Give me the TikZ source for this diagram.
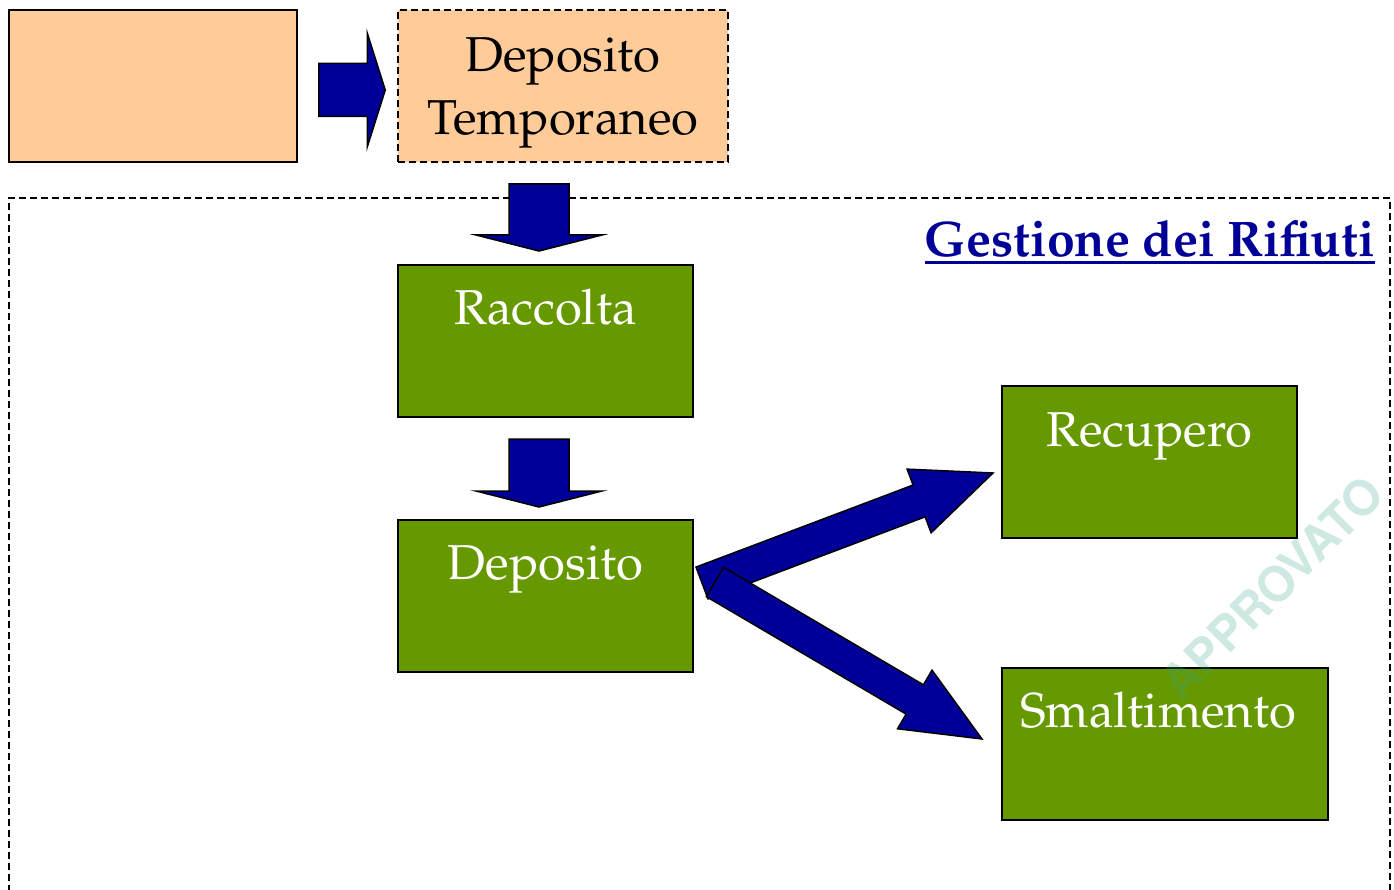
\documentclass[tikz,border=0pt]{standalone}
\usepackage[T1]{fontenc}
\renewcommand\rmdefault{ppl}
\usetikzlibrary{calc}
\definecolor{peach}{HTML}{FFCC99}
\definecolor{leaf}{HTML}{669900}
\definecolor{navy}{HTML}{000099}
\definecolor{wmcol}{HTML}{3AA88A}
\tikzset{
  boxline/.style={draw=black,line width=1.5pt},
  peachbox/.style={boxline,fill=peach,minimum height=152,inner sep=0},
  greenbox/.style={boxline,fill=leaf,minimum height=152,inner sep=0},
  bigtext/.style={font=\fontsize{49}{58}\selectfont,inner sep=0,anchor=base},
  greentext/.style={bigtext,text=white},
  dashline/.style={draw=black,line width=1.5pt,dash pattern=on 7pt off 4pt},
  arrowstyle/.style={fill=navy,draw=black,line width=1.5pt,line join=miter},
}
% start, tip, half shaft, half head, head length
\newcommand\blockarrow[5]{%
  \coordinate (ba-b) at ($#2!#5!#1$);
  \draw[arrowstyle] ($#1!#3!90:#2$) -- ($(ba-b)!#3!90:#2$) -- ($(ba-b)!#4!90:#2$) -- #2
    -- ($(ba-b)!#4!-90:#2$) -- ($(ba-b)!#3!-90:#2$) -- ($#1!#3!-90:#2$) -- cycle;
}
\begin{document}
\begin{tikzpicture}[x=1pt,y=-1pt]
\useasboundingbox (0,0) rectangle (1394,890);
% management frame (open at bottom)
\draw[dashline] (9,892) -- (9,198) -- (1390,198) -- (1390,892);
% top boxes
\node[peachbox,minimum width=288] (src) at (153,86) {};
\node[peachbox,minimum width=330,dash pattern=on 7pt off 4pt] (temp) at (563,86) {};
\node[bigtext] (dt1) at (563,72) {Deposito};
\node[bigtext] (dt2) at (563,135) {Temporaneo};
% green boxes
\node[greenbox,minimum width=295] (racc) at (545.5,341) {};
\node[greenbox,minimum width=295] (dep) at (545.5,596) {};
\node[greenbox,minimum width=295] (rec) at (1149.5,462) {};
\node[greenbox,minimum width=326] (smal) at (1165,744) {};
\node[greentext] (raccT) at ($(racc.north)+(0,60)$) {Raccolta};
\node[greentext] (depT) at ($(dep.north)+(0,60)$) {Deposito};
\node[greentext] (recT) at ($(rec.north)+(0,61)$) {Recupero};
\node[greentext] (smalT) at ($(smal.north)+(-7,60)$) {Smaltimento};
% title
\node[bigtext,anchor=base east,font=\fontsize{50}{58}\selectfont\bfseries,text=navy] (gest) at (1375,257) {Gestione dei Rifiuti};
\draw[navy,line width=3pt] ($(gest.base west)+(0,6)$) -- ($(gest.base east)+(0,6)$);
% arrow end points
\coordinate (a1s) at ($(src.east)+(21,4)$);
\coordinate (a1t) at ($(temp.west)+(-12,4)$);
\coordinate (a2s) at (539,184);
\coordinate (a2t) at (539,251);
\coordinate (a3s) at (539,439);
\coordinate (a3t) at (539,507);
\coordinate (a4s) at (702,583);
\coordinate (a4t) at (993,473);
\coordinate (a5s) at (715,582);
\coordinate (a5t) at (982,739);
\blockarrow{(a1s)}{(a1t)}{26.5pt}{57pt}{18pt}
\blockarrow{(a2s)}{(a2t)}{30pt}{63pt}{16pt}
\blockarrow{(a3s)}{(a3t)}{30pt}{63pt}{16pt}
\blockarrow{(a4s)}{(a4t)}{17pt}{34pt}{79pt}
\blockarrow{(a5s)}{(a5t)}{17pt}{34pt}{78pt}
% watermark
\node[rotate=45,text=wmcol,opacity=0.25,inner sep=0,font=\fontfamily{phv}\fontseries{b}\fontsize{48}{48}\selectfont] (wmark) at (1272,588) {APPROVATO};
\end{tikzpicture}
\end{document}
